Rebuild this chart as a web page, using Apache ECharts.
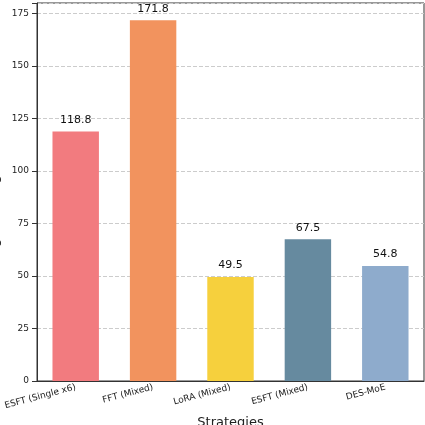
<!DOCTYPE html>
<html><head><meta charset="utf-8">
<script src="https://cdn.jsdelivr.net/npm/echarts@6/dist/echarts.min.js"></script>
<style>html,body{margin:0;padding:0}#c{width:425px;height:425px}</style>
</head><body><div id="c"></div>
<script>
const categories = ["ESFT (Single x6)", "FFT (Mixed)", "LoRA (Mixed)", "ESFT (Mixed)", "DES-MoE"];
const values = [118.8, 171.8, 49.5, 67.5, 54.8];
const colors = ["#F27B7F", "#F2935E", "#F6D03D", "#668A9F", "#8EABCC"];
const yTicks = [0, 25, 50, 75, 100, 125, 150, 175];
const chart = echarts.init(document.getElementById('c'));
chart.setOption({
  animation: false,
  grid: {left: 37, right: 1, top: 3, bottom: 44, containLabel: false, outerBoundsMode: 'none', show: true, borderColor: '#333', borderWidth: 1},
  xAxis: {type: 'category', data: categories, name: 'Strategies', nameLocation: 'middle', nameGap: 30,
    nameTextStyle: {fontSize: 13, color: '#222', fontFamily: 'DejaVu Sans'},
    axisLine: {lineStyle: {color: '#333'}}, axisTick: {alignWithLabel: true, lineStyle: {color: '#333'}},
    axisLabel: {rotate: 15, fontSize: 9, color: '#222', fontFamily: 'DejaVu Sans', margin: 6}},
  yAxis: {type: 'value', min: 0, max: 180, interval: 25, name: 'Average Training Time (min)', nameLocation: 'middle', nameGap: 26,
    nameTextStyle: {fontSize: 13, color: '#222', fontFamily: 'DejaVu Sans'},
    axisLine: {show: true, lineStyle: {color: '#333'}}, axisTick: {show: true, lineStyle: {color: '#333'}},
    axisLabel: {fontSize: 9, color: '#222', fontFamily: 'DejaVu Sans', formatter: v => yTicks.includes(v) ? v : ''},
    splitLine: {lineStyle: {type: 'dashed', color: '#ccc'}}},
  series: [{type: 'bar', barWidth: '60%',
    data: values.map((v, i) => ({value: v, itemStyle: {color: colors[i]}})),
    label: {show: true, position: 'top', fontSize: 11, color: '#111', fontFamily: 'DejaVu Sans', distance: 6, formatter: p => p.value.toFixed(1)}}]
});
</script></body></html>
